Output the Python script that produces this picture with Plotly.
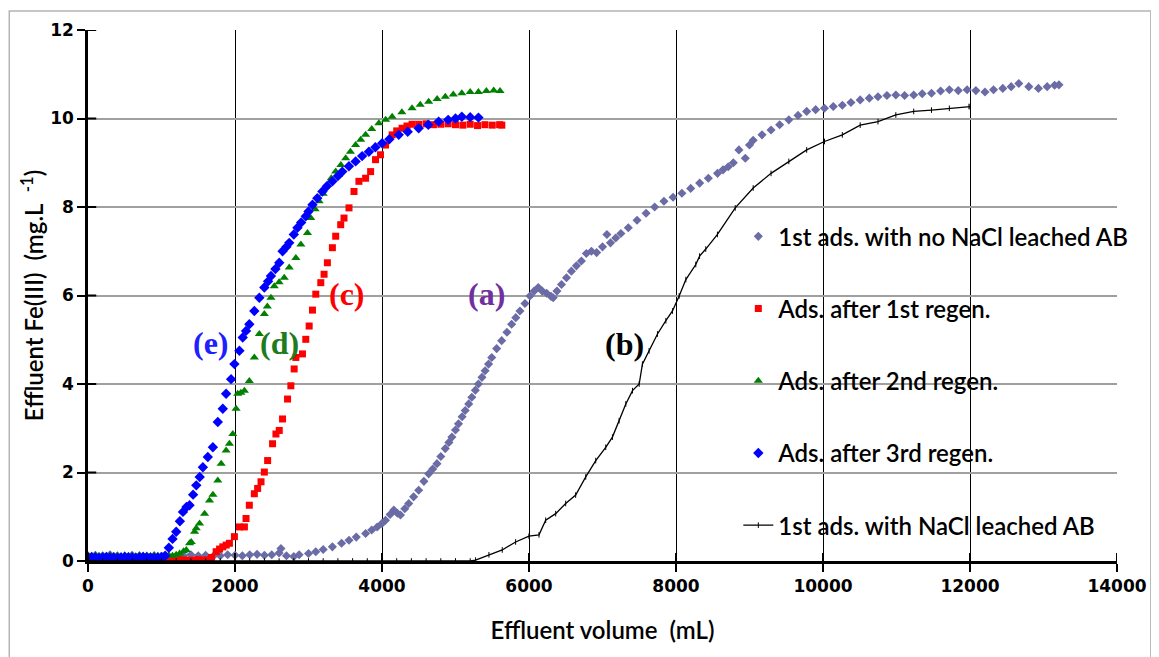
import plotly.graph_objects as go

# ---------------- data ----------------
x_ticks = [0, 2000, 4000, 6000, 8000, 10000, 12000, 14000]
y_ticks = [0, 2, 4, 6, 8, 10, 12]

# (a) 1st ads. with no NaCl leached AB
a_x = [0, 100, 200, 300, 400, 500, 600, 700, 800, 900, 1000, 1100, 1200, 1300, 1400, 1500, 1600, 1700, 1800, 1900,
       2000, 2100, 2200, 2300, 2400, 2500, 2600, 2625, 2700, 2800, 2873, 3000, 3099, 3200, 3325, 3450, 3551, 3650,
       3777, 3860, 3935, 4000, 4048, 4110, 4161, 4210, 4251, 4310, 4364, 4430, 4499, 4570, 4635, 4690, 4748, 4800,
       4861, 4910, 4951, 5000, 5041, 5090, 5132, 5180, 5222, 5270, 5312, 5360, 5403, 5450, 5493, 5560, 5628, 5700,
       5764, 5820, 5877, 5945, 6013, 6070, 6126, 6180, 6240, 6300, 6329, 6380, 6442, 6510, 6577, 6645, 6713, 6780,
       6850, 6920, 7000, 7060, 7109, 7180, 7250, 7351, 7470, 7593, 7710, 7836, 7960, 8080, 8200, 8322, 8440, 8565,
       8640, 8711, 8780, 8856, 8943, 9000, 9050, 9170, 9293, 9410, 9535, 9660, 9778, 9900, 10020, 10140, 10263,
       10380, 10506, 10630, 10748, 10870, 10991, 11110, 11234, 11350, 11476, 11600, 11719, 11840, 11961, 12080,
       12204, 12320, 12446, 12560, 12664, 12800, 12931, 13050, 13151, 13210]
a_y = [0.12, 0.13, 0.12, 0.14, 0.12, 0.10, 0.13, 0.12, 0.11, 0.12, 0.10, 0.09, 0.10, 0.12, 0.14, 0.12, 0.13, 0.10,
       0.12, 0.14, 0.13, 0.12, 0.14, 0.15, 0.13, 0.14, 0.18, 0.28, 0.12, 0.10, 0.14, 0.17, 0.21, 0.26, 0.32, 0.40,
       0.47, 0.54, 0.62, 0.70, 0.77, 0.85, 0.92, 1.05, 1.15, 1.08, 1.04, 1.18, 1.30, 1.45, 1.60, 1.80, 1.97, 2.08,
       2.20, 2.36, 2.54, 2.68, 2.80, 2.96, 3.10, 3.26, 3.40, 3.55, 3.70, 3.86, 4.00, 4.15, 4.30, 4.45, 4.60, 4.80,
       4.98, 5.17, 5.35, 5.50, 5.65, 5.82, 5.99, 6.10, 6.18, 6.10, 6.05, 5.98, 5.95, 6.10, 6.25, 6.40, 6.55, 6.67,
       6.78, 6.95, 7.00, 6.97, 7.10, 7.38, 7.19, 7.30, 7.40, 7.53, 7.70, 7.86, 8.00, 8.13, 8.22, 8.31, 8.42, 8.54,
       8.65, 8.76, 8.84, 8.91, 9.00, 9.29, 9.10, 9.40, 9.51, 9.63, 9.74, 9.86, 9.97, 10.07, 10.16, 10.20, 10.23,
       10.27, 10.30, 10.36, 10.42, 10.46, 10.49, 10.52, 10.53, 10.52, 10.53, 10.56, 10.57, 10.62, 10.65, 10.63,
       10.65, 10.63, 10.60, 10.65, 10.68, 10.72, 10.79, 10.72, 10.68, 10.72, 10.75, 10.76]

# (c) Ads. after 1st regen.
c_x = [0, 50, 100, 150, 200, 250, 300, 350, 400, 450, 500, 550, 600, 650, 700, 750, 800, 850, 900, 950, 1000,
       1050, 1100, 1150, 1200, 1250, 1300, 1350, 1400, 1450, 1500, 1550, 1600, 1631, 1680, 1744, 1790, 1834, 1880,
       1924, 1992, 2060, 2128, 2150, 2195, 2263, 2308, 2354, 2399, 2444, 2511, 2557, 2602, 2647, 2715, 2760, 2805,
       2828, 2918, 2963, 3009, 3054, 3099, 3167, 3212, 3257, 3325, 3370, 3438, 3483, 3551, 3619, 3686, 3777, 3845,
       3912, 3980, 4048, 4138, 4200, 4273, 4340, 4409, 4500, 4600, 4700, 4800, 4900, 5000, 5100, 5200, 5300, 5400,
       5500, 5600, 5630]
c_y = [0.02, 0.03, 0.02, 0.01, 0.02, 0.03, 0.02, 0.02, 0.01, 0.02, 0.03, 0.02, 0.02, 0.01, 0.02, 0.03, 0.02, 0.02,
       0.01, 0.02, 0.03, 0.02, 0.02, 0.01, 0.02, 0.03, 0.02, 0.02, 0.01, 0.02, 0.03, 0.02, 0.02, 0.02, 0.08, 0.21,
       0.27, 0.32, 0.36, 0.40, 0.55, 0.77, 0.77, 0.96, 1.26, 1.52, 1.64, 1.79, 2.01, 2.27, 2.65, 2.87, 2.95, 3.21,
       3.66, 3.96, 4.34, 4.60, 4.68, 5.01, 5.31, 5.67, 6.03, 6.29, 6.48, 6.74, 7.08, 7.34, 7.60, 7.75, 7.98, 8.35,
       8.58, 8.65, 8.80, 9.07, 9.18, 9.40, 9.63, 9.72, 9.78, 9.83, 9.87, 9.87, 9.88, 9.86, 9.87, 9.88, 9.86, 9.85,
       9.87, 9.84, 9.86, 9.85, 9.86, 9.85]

# (d) Ads. after 2nd regen.
d_x = [0, 50, 100, 150, 200, 250, 300, 350, 400, 450, 500, 550, 600, 650, 700, 750, 800, 850, 900, 950, 1000,
       1050, 1100, 1150, 1200, 1247, 1300, 1337, 1382, 1405, 1450, 1473, 1518, 1586, 1653, 1700, 1766, 1812, 1879,
       1924, 1970, 2015, 2037, 2080, 2128, 2195, 2263, 2331, 2399, 2440, 2489, 2534, 2600, 2670, 2738, 2828, 2896,
       2986, 3031, 3090, 3144, 3200, 3257, 3310, 3370, 3440, 3506, 3570, 3641, 3710, 3777, 3860, 3957, 4050, 4138,
       4270, 4409, 4520, 4635, 4750, 4861, 4970, 5086, 5200, 5312, 5420, 5520, 5606]
d_y = [0.12, 0.11, 0.13, 0.12, 0.12, 0.11, 0.13, 0.12, 0.12, 0.11, 0.13, 0.12, 0.12, 0.11, 0.13, 0.12, 0.12, 0.11,
       0.13, 0.12, 0.12, 0.11, 0.13, 0.12, 0.14, 0.17, 0.22, 0.25, 0.40, 0.43, 0.66, 0.74, 0.85, 1.07, 1.37, 1.50,
       1.82, 2.20, 2.50, 2.65, 2.87, 3.44, 3.78, 3.80, 3.85, 4.07, 4.60, 5.13, 5.58, 5.75, 5.95, 6.21, 6.30, 6.40,
       6.63, 6.85, 7.15, 7.41, 7.75, 7.95, 8.13, 8.30, 8.50, 8.65, 8.80, 8.95, 9.10, 9.25, 9.40, 9.52, 9.63, 9.76,
       9.89, 9.97, 10.04, 10.14, 10.23, 10.31, 10.38, 10.44, 10.49, 10.54, 10.57, 10.60, 10.60, 10.62, 10.63, 10.62]

# (e) Ads. after 3rd regen.
e_x = [0, 50, 100, 150, 200, 250, 300, 350, 400, 450, 500, 550, 600, 650, 700, 750, 800, 850, 900, 950, 1000,
       1050, 1100, 1150, 1200, 1250, 1292, 1340, 1382, 1430, 1473, 1520, 1563, 1630, 1699, 1766, 1834, 1879, 1947,
       1992, 2060, 2105, 2150, 2195, 2263, 2331, 2399, 2450, 2489, 2550, 2602, 2647, 2700, 2738, 2800, 2850, 2900,
       2963, 3000, 3054, 3120, 3189, 3250, 3325, 3400, 3460, 3550, 3641, 3730, 3822, 3910, 4002, 4100, 4228, 4350,
       4499, 4630, 4770, 4900, 5000, 5086, 5200, 5312]
e_y = [0.08, 0.09, 0.08, 0.07, 0.08, 0.09, 0.08, 0.08, 0.07, 0.08, 0.09, 0.08, 0.08, 0.07, 0.08, 0.09, 0.08, 0.08,
       0.07, 0.08, 0.09, 0.12, 0.30, 0.50, 0.66, 0.90, 1.11, 1.22, 1.26, 1.50, 1.71, 1.90, 2.12, 2.35, 2.57, 3.14,
       3.44, 3.78, 4.11, 4.45, 4.75, 5.05, 5.20, 5.35, 5.65, 5.95, 6.18, 6.32, 6.44, 6.60, 6.74, 7.00, 7.10, 7.19,
       7.38, 7.53, 7.65, 7.79, 7.90, 8.05, 8.20, 8.35, 8.47, 8.58, 8.70, 8.80, 8.92, 9.03, 9.15, 9.25, 9.35, 9.44,
       9.53, 9.63, 9.70, 9.78, 9.86, 9.93, 9.97, 10.00, 10.04, 10.03, 10.02]

# (b) 1st ads. with NaCl leached AB
b_x = [0, 200, 400, 600, 800, 1000, 1200, 1400, 1600, 1800, 2000, 2200, 2400, 2600, 2800, 3000, 3200, 3400, 3600,
       3800, 4000, 4200, 4400, 4600, 4800, 5000, 5200, 5273, 5455, 5636, 5818, 5999, 6136, 6227, 6363, 6499, 6635,
       6772, 6908, 7044, 7135, 7226, 7317, 7408, 7499, 7543, 7634, 7748, 7862, 7952, 8043, 8134, 8269, 8321, 8405,
       8564, 8806, 9050, 9293, 9535, 9778, 10020, 10263, 10506, 10748, 10991, 11234, 11476, 11719, 11986, 12000]
b_y = [0, 0, 0, 0, 0, 0, 0, 0, 0, 0, 0, 0, 0, 0, 0, 0, 0, 0, 0, 0, 0, 0, 0, 0, 0, 0, 0, 0.02, 0.14, 0.25, 0.43,
       0.56, 0.59, 0.92, 1.07, 1.30, 1.49, 1.90, 2.27, 2.57, 2.80, 3.17, 3.55, 3.85, 4.00, 4.45, 4.75, 5.13, 5.43,
       5.65, 5.99, 6.36, 6.70, 6.89, 7.05, 7.38, 7.98, 8.43, 8.76, 9.03, 9.29, 9.48, 9.63, 9.85, 9.93, 10.08, 10.16,
       10.19, 10.23, 10.27, 10.27]

labels = ["(a)", "(b)", "(c)", "(d)", "(e)"]
label_x = [5420, 7300, 3520, 2600, 1680]
label_y = [6.03, 4.9, 6.03, 4.93, 4.93]

# ---------------- figure ----------------
fig = go.Figure()
fig.add_trace(go.Scatter(x=a_x, y=a_y, mode="markers", name="1st ads. with no NaCl leached AB",
                         marker=dict(symbol="diamond", size=7, color="#6B6BA6")))
fig.add_trace(go.Scatter(x=c_x, y=c_y, mode="markers", name="Ads. after 1st regen.",
                         marker=dict(symbol="square", size=7, color="#FF0000")))
fig.add_trace(go.Scatter(x=d_x, y=d_y, mode="markers", name="Ads. after 2nd regen.",
                         marker=dict(symbol="triangle-up", size=8, color="#008000")))
fig.add_trace(go.Scatter(x=e_x, y=e_y, mode="markers", name="Ads. after 3rd regen.",
                         marker=dict(symbol="diamond", size=8, color="#0000FF")))
fig.add_trace(go.Scatter(x=b_x, y=b_y, mode="lines+markers", name="1st ads. with NaCl leached AB",
                         line=dict(color="black", width=1.3),
                         marker=dict(symbol="line-ns", size=4, line=dict(width=1, color="black"), color="black")))
for i in range(5):
    fig.data[i].legendgroup = "g" + str(i)

label_colors = ["#7030A0", "#000000", "#FF0000", "#1E7B1E", "#2020FF"]
for t, lx, ly, col in zip(labels, label_x, label_y, label_colors):
    fig.add_annotation(x=lx, y=ly, text="<b>" + t + "</b>", showarrow=False,
                       font=dict(family="Liberation Serif", size=32, color=col))

shapes = []
# white legend backdrop (above grid, below traces)
shapes.append(dict(type="rect", xref="paper", yref="paper", x0=0.614, x1=1.004, y0=0.012, y1=0.664,
                   fillcolor="white", line=dict(width=0), layer="between"))
# inner halves of the crossing ticks
for v in x_ticks:
    shapes.append(dict(type="line", xref="x", yref="paper", x0=v, x1=v, y0=0, y1=0.015,
                       line=dict(color="black", width=2), layer="above"))
for v in y_ticks:
    shapes.append(dict(type="line", xref="paper", yref="y", x0=0, x1=0.008, y0=v, y1=v,
                       line=dict(color="black", width=2), layer="above"))
# outer chart border
shapes.append(dict(type="rect", xref="paper", yref="paper", x0=-0.0765, x1=1.0329, y0=-0.2, y1=1.0356,
                   line=dict(color="#B4B4B4", width=1.5), fillcolor="rgba(0,0,0,0)", layer="above"))

title_font = dict(family="Lato", size=24, color="black", weight=600)

fig.update_layout(
    width=1151, height=649,
    margin=dict(l=80, r=38, t=20, b=96),
    paper_bgcolor="white", plot_bgcolor="white",
    showlegend=True,
    legend=dict(x=0.632, y=0.653, xanchor="left", yanchor="top", bgcolor="rgba(0,0,0,0)",
                font=title_font, tracegroupgap=38, itemsizing="trace"),
    shapes=shapes,
)

fig.update_xaxes(range=[0, 14000], tickvals=x_ticks, ticktext=[str(v) for v in x_ticks],
                 showgrid=True, gridcolor="black", gridwidth=1, zeroline=False,
                 showline=True, linecolor="black", linewidth=2.5,
                 ticks="outside", ticklen=8, tickwidth=2, tickcolor="black",
                 tickfont=dict(family="DejaVu Sans", size=17, color="black", weight="bold"),
                 title=dict(text="Effluent volume  (mL)", standoff=28, font=title_font))
fig.update_yaxes(range=[0, 12], tickvals=y_ticks, ticktext=[str(v) for v in y_ticks],
                 showgrid=True, gridcolor="#A0A0A0", gridwidth=1.5, zeroline=False,
                 showline=True, linecolor="black", linewidth=2.5,
                 ticks="outside", ticklen=8, tickwidth=2, tickcolor="black",
                 tickfont=dict(family="DejaVu Sans", size=17, color="black", weight="bold"),
                 title=dict(text="Effluent Fe(III)  (mg.L  <sup>-1</sup>)", standoff=0, font=title_font))

fig.write_html("out.html")
